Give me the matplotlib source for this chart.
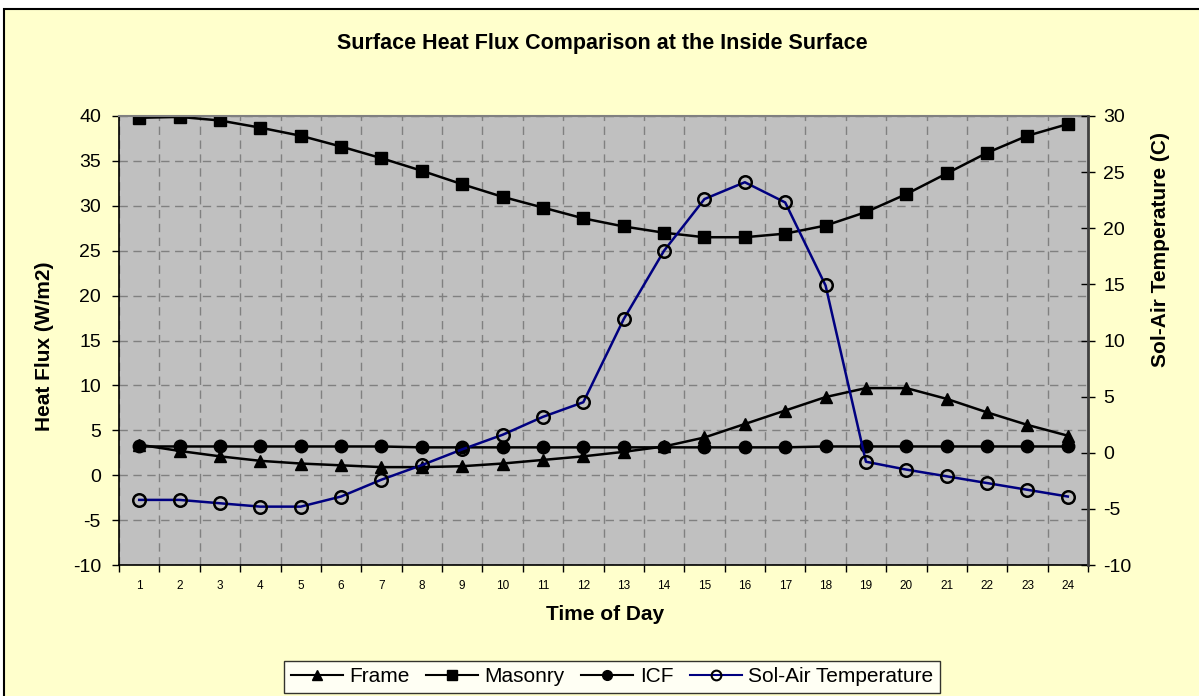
import matplotlib
matplotlib.use("Agg")
import matplotlib.pyplot as plt
from matplotlib.patches import Rectangle
from matplotlib.lines import Line2D

hours = list(range(1, 25))
frame = [3.4, 2.7, 2.1, 1.6, 1.3, 1.1, 0.9, 0.9, 1.0, 1.3, 1.7, 2.1,
         2.6, 3.2, 4.2, 5.7, 7.2, 8.7, 9.7, 9.7, 8.5, 7.0, 5.6, 4.4]
masonry = [39.8, 39.9, 39.5, 38.7, 37.8, 36.6, 35.3, 33.9, 32.4, 31.0, 29.8, 28.6,
           27.7, 27.0, 26.5, 26.5, 26.9, 27.8, 29.3, 31.3, 33.6, 35.9, 37.8, 39.1]
icf = [3.2, 3.2, 3.2, 3.2, 3.2, 3.2, 3.2, 3.1, 3.1, 3.1, 3.1, 3.1,
       3.1, 3.1, 3.1, 3.1, 3.1, 3.2, 3.2, 3.2, 3.2, 3.2, 3.2, 3.2]
solair = [-4.2, -4.2, -4.5, -4.8, -4.8, -3.9, -2.4, -1.1, 0.3, 1.6, 3.2, 4.5,
          11.9, 18.0, 22.6, 24.1, 22.3, 14.9, -0.8, -1.5, -2.1, -2.7, -3.3, -3.9]

plt.rcParams['font.family'] = ['Liberation Sans', 'DejaVu Sans']
plt.rcParams['axes.unicode_minus'] = False

fig = plt.figure(figsize=(11.99, 6.96), dpi=100)
fig.patch.set_facecolor('white')
bg = Rectangle((4 / 1199, -0.01), 1.0, 1 - 9 / 696 + 0.01, transform=fig.transFigure,
               facecolor='#FFFFCC', edgecolor='black', linewidth=1.5, zorder=-10)
fig.patches.append(bg)

ax = fig.add_axes([119 / 1199, 1 - 565 / 696, (1088 - 119) / 1199, (565 - 116) / 696])
ax.set_facecolor('#C0C0C0')
ax.set_xlim(0.5, 24.5)
ax.set_ylim(-10, 40)
ax.set_yticks(range(-10, 41, 5))
ax.set_xticks(hours)
ax.set_xticks([h + 0.5 for h in range(0, 25)], minor=True)
ax.tick_params(axis='x', which='major', length=0, labelsize=8.5, pad=11)
ax.tick_params(axis='x', which='minor', length=5, direction='out', width=1)
ax.tick_params(axis='y', labelsize=14, length=5, direction='out', width=1, pad=8)
ax.grid(True, axis='y', which='major', color='#808080', linestyle=(0, (6, 4)), linewidth=1)
ax.grid(True, axis='x', which='minor', color='#808080', linestyle=(0, (6, 4)), linewidth=1)
ax.set_axisbelow(True)
for side in ['left', 'bottom']:
    ax.spines[side].set_color('black')
    ax.spines[side].set_linewidth(1.2)
ax.spines['top'].set_color('#808080')
ax.spines['top'].set_linewidth(1.5)
ax.spines['right'].set_visible(False)

ax.plot(hours, frame, color='black', lw=1.8, marker='^', ms=9, label='Frame')
ax.plot(hours, masonry, color='black', lw=1.8, marker='s', ms=9, label='Masonry')
ax.plot(hours, icf, color='black', lw=1.8, marker='o', ms=9, label='ICF')

ax2 = ax.twinx()
ax2.set_ylim(-10, 30)
ax2.set_yticks(range(-10, 31, 5))
ax2.tick_params(axis='y', labelsize=14, length=10, direction='inout', width=1, pad=6)
for side in ['left', 'bottom', 'top']:
    ax2.spines[side].set_visible(False)
ax2.spines['right'].set_color('#404040')
ax2.spines['right'].set_linewidth(2)
ax2.plot(hours, solair, color='#000080', lw=1.8, marker='o', ms=9,
         markerfacecolor='none', markeredgecolor='black', markeredgewidth=1.8,
         label='Sol-Air Temperature')

fig.text(45 / 1199, 1 - 346 / 696, 'Heat Flux (W/m2)', fontsize=15, fontweight='bold',
         ha='center', va='center', rotation=90)
fig.text(1161 / 1199, 1 - 249 / 696, 'Sol-Air Temperature (C)', fontsize=15,
         fontweight='bold', ha='center', va='center', rotation=90)
fig.text(605 / 1199, 1 - 614 / 696, 'Time of Day', fontsize=15, fontweight='bold',
         ha='center', va='center')
fig.text(602 / 1199, 1 - 44 / 696, 'Surface Heat Flux Comparison at the Inside Surface',
         fontsize=15.5, fontweight='bold', ha='center', va='center')

handles = [
    Line2D([], [], color='black', lw=1.5, marker='^', ms=7),
    Line2D([], [], color='black', lw=1.5, marker='s', ms=7),
    Line2D([], [], color='black', lw=1.5, marker='o', ms=7),
    Line2D([], [], color='#000080', lw=1.5, marker='o', ms=7, markerfacecolor='none',
           markeredgecolor='black', markeredgewidth=1.5),
]
leg = fig.legend(handles, ['Frame', 'Masonry', 'ICF', 'Sol-Air Temperature'],
                 loc='center', bbox_to_anchor=(612 / 1199, 1 - 677 / 696), ncol=4,
                 fontsize=15, frameon=True, fancybox=False, handlelength=2.5,
                 handletextpad=0.3, columnspacing=0.8, borderpad=0.3)
leg.get_frame().set_edgecolor('black')
leg.get_frame().set_facecolor('white')
leg.get_frame().set_linewidth(1)

fig.savefig('out.png', dpi=100, facecolor=fig.get_facecolor())
